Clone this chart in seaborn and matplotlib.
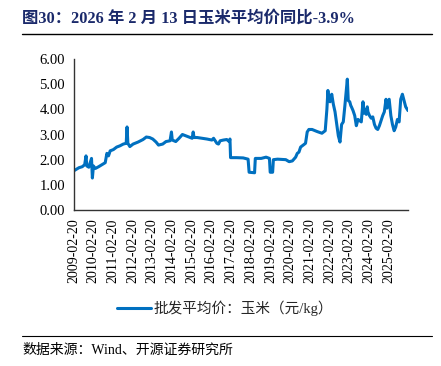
import matplotlib
matplotlib.use("Agg")
import matplotlib.pyplot as plt
import seaborn as sns
import pandas as pd

sns.set_theme(style="white")
plt.rcParams['font.family'] = ['Liberation Serif', 'Noto Sans CJK SC', 'DejaVu Sans']
plt.rcParams['axes.unicode_minus'] = False

title = "图30：2026 年 2 月 13 日玉米平均价同比-3.9%"
series_name = "批发平均价：玉米（元/kg）"
source = "数据来源：Wind、开源证券研究所"

dates = [
    "2009-02-20", "2009-04-01", "2009-06-01", "2009-08-01", "2009-09-15", "2009-10-10", "2009-10-25",
    "2009-12-01", "2010-01-20", "2010-02-05", "2010-02-25", "2010-04-01", "2010-06-01", "2010-08-01",
    "2010-10-01", "2010-11-01", "2010-12-01", "2011-01-01", "2011-03-01", "2011-05-01", "2011-07-01",
    "2011-09-01", "2011-10-25", "2011-11-10", "2011-11-25", "2012-01-01", "2012-03-01", "2012-06-01",
    "2012-09-01", "2012-11-01", "2013-01-01", "2013-03-01", "2013-05-01", "2013-06-15", "2013-09-01",
    "2013-11-01", "2014-01-15", "2014-02-10", "2014-02-25", "2014-05-01", "2014-07-01", "2014-09-01",
    "2014-11-01", "2015-01-01", "2015-03-01", "2015-03-20", "2015-04-05", "2015-06-01", "2015-09-01",
    "2015-12-01", "2016-03-01", "2016-04-01", "2016-06-01", "2016-07-01", "2016-08-01", "2016-10-01",
    "2016-12-01", "2017-01-15", "2017-01-30", "2017-02-10", "2017-06-01", "2017-10-01", "2018-01-01",
    "2018-01-20", "2018-05-01", "2018-05-15", "2018-09-01", "2018-12-01", "2019-02-01", "2019-02-15",
    "2019-04-01", "2019-04-15", "2019-07-01", "2019-12-01", "2020-02-01", "2020-04-01", "2020-06-01",
    "2020-07-01", "2020-08-01", "2020-09-01", "2020-11-01", "2020-12-01", "2021-01-01", "2021-02-01",
    "2021-04-01", "2021-07-01", "2021-10-01", "2021-12-01", "2022-01-01", "2022-01-20", "2022-02-01",
    "2022-02-15", "2022-03-01", "2022-04-01", "2022-05-01", "2022-06-01", "2022-08-01", "2022-09-01",
    "2022-10-01", "2022-11-01", "2022-12-01", "2023-01-15", "2023-02-01", "2023-03-01", "2023-03-20",
    "2023-04-01", "2023-05-01", "2023-06-01", "2023-07-01", "2023-08-01", "2023-09-01", "2023-10-01",
    "2023-11-01", "2023-11-20", "2023-12-01", "2024-01-01", "2024-01-20", "2024-02-01", "2024-03-01",
    "2024-04-01", "2024-05-01", "2024-06-01", "2024-07-01", "2024-08-01", "2024-09-01", "2024-10-01",
    "2024-11-01", "2024-12-01", "2025-01-01", "2025-01-20", "2025-02-01", "2025-03-01", "2025-04-01",
    "2025-05-01", "2025-06-01", "2025-07-01", "2025-08-01", "2025-09-01", "2025-10-01", "2025-11-01",
    "2025-12-01", "2026-01-01", "2026-02-13",
]
prices = [
    1.55, 1.60, 1.68, 1.72, 1.80, 2.15, 1.75,
    1.70, 2.05, 1.27, 1.75, 1.65, 1.72, 1.80,
    1.88, 2.25, 2.15, 2.35, 2.40, 2.50, 2.55,
    2.62, 2.65, 3.30, 2.65, 2.52, 2.62, 2.70,
    2.80, 2.90, 2.88, 2.82, 2.70, 2.58, 2.62,
    2.72, 2.75, 3.10, 2.78, 2.72, 2.85, 3.00,
    2.95, 2.90, 2.85, 3.10, 2.88, 2.88, 2.85,
    2.82, 2.78, 2.85, 2.65, 2.62, 2.75, 2.78,
    2.80, 2.72, 2.82, 2.08, 2.08, 2.07, 2.02,
    1.50, 1.48, 2.05, 2.05, 2.10, 2.05, 1.50,
    1.50, 2.00, 2.02, 2.00, 1.92, 1.95, 2.10,
    2.25, 2.30, 2.50, 2.60, 2.65, 3.10, 3.20,
    3.20, 3.12, 3.05, 3.15, 4.00, 4.75, 4.45,
    4.55, 4.30, 4.60, 4.20, 3.90, 2.95, 2.70,
    3.40, 3.50, 4.15, 5.20, 4.35, 4.30, 4.15,
    4.10, 3.95, 3.75, 3.35, 3.60, 3.55, 3.50,
    4.30, 3.85, 4.00, 3.80, 4.10, 3.90, 3.75,
    3.65, 3.70, 3.40, 3.25, 3.20, 3.35, 3.55,
    3.75, 3.90, 4.40, 4.05, 4.15, 4.40, 3.75,
    3.40, 3.15, 3.30, 3.60, 3.50, 4.40, 4.60,
    4.35, 4.10, 3.95,
]
ytick_values = [0, 1, 2, 3, 4, 5, 6]
xtick_years = list(range(2009, 2026))

df = pd.DataFrame({"date": pd.to_datetime(dates), "price": prices})

fig = plt.figure(figsize=(4.41, 3.66), dpi=100)
ax = fig.add_axes([73.5 / 441, 156 / 366, (408 - 73.5) / 441, (210 - 59) / 366])

sns.lineplot(data=df, x="date", y="price", ax=ax, color="#0070C0", linewidth=2.2, label=series_name)

ax.set_xlim(pd.Timestamp("2009-02-20"), pd.Timestamp("2026-02-13"))
ax.set_ylim(0, 6)
ax.set_yticks(ytick_values)
ax.set_yticklabels([f"{v:.2f}" for v in ytick_values], fontsize=10.5, color="black")
xt = [pd.Timestamp(f"{y}-02-20") for y in xtick_years]
ax.set_xticks(xt)
ax.set_xticklabels([t.strftime("%Y-%m-%d") for t in xt], rotation=90, fontsize=10, color="black")
ax.set_xlabel("")
ax.set_ylabel("")

for s in ["top", "right"]:
    ax.spines[s].set_visible(False)
for s in ["left", "bottom"]:
    ax.spines[s].set_color("#333333")
    ax.spines[s].set_linewidth(1.0)
ax.tick_params(axis="both", which="both", direction="out", length=4, width=0.8, color="#555555", pad=2)
ax.grid(False)

leg = ax.legend(loc="upper center", bbox_to_anchor=(0.453, -0.51), frameon=False,
                prop={"family": ["Liberation Serif", "Noto Sans CJK SC"], "size": 10.5},
                handlelength=2.3, handletextpad=0.15)

fig.text(22 / 441, 1 - 19 / 366, title, fontsize=11.8, fontweight="bold", color="#1B2A6B",
         va="center", ha="left")
fig.add_artist(plt.Line2D([22 / 441, 432 / 441], [1 - 34 / 366, 1 - 34 / 366], color="black", linewidth=1.0))
fig.add_artist(plt.Line2D([22 / 441, 432 / 441], [1 - 336 / 366, 1 - 336 / 366], color="black", linewidth=0.8))
fig.text(22 / 441, 1 - 350 / 366, source, fontsize=10, color="black", va="center", ha="left",
         family=["Liberation Serif", "Noto Sans CJK SC"])

fig.savefig("out.png", dpi=100, facecolor="white")
